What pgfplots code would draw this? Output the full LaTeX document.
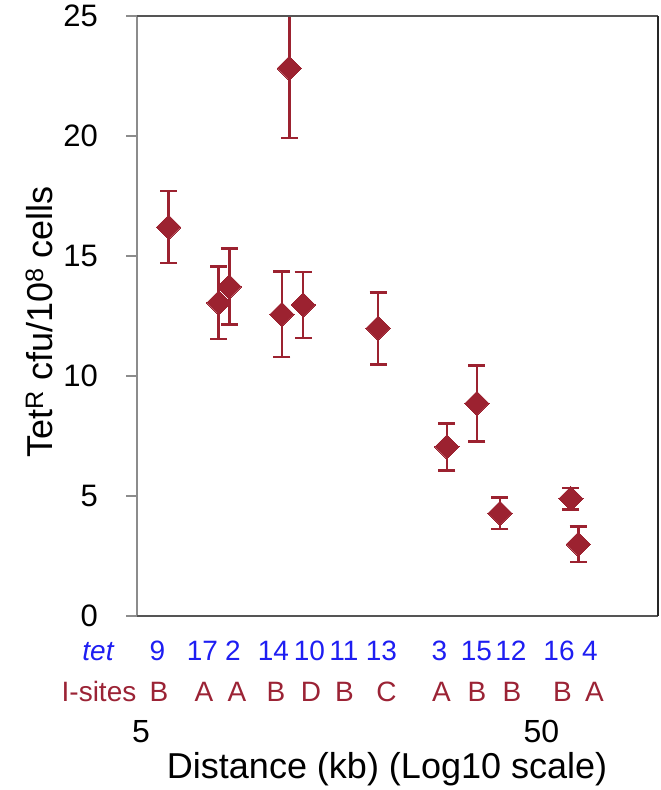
\documentclass[border=0pt]{standalone}
\usepackage{pgfplots}
\pgfplotsset{compat=1.18}
\usepackage{fontspec}
\setmainfont{Liberation Sans}
\definecolor{mred}{HTML}{9C2230}
\definecolor{tblue}{HTML}{1E1EF2}
\definecolor{sred}{HTML}{9B2335}
\definecolor{tgray}{HTML}{8C8C8C}
\definecolor{bgray}{HTML}{555555}
\definecolor{rdark}{HTML}{262626}

\pgfplotstableread{
x     y      err
6.0   16.20  1.50
8.0   13.05  1.50
8.5   13.72  1.58
12.0  22.82  2.90
11.5  12.57  1.78
13.0  12.96  1.38
20.0  11.99  1.50
29.7  7.05   0.98
35.3  8.86   1.58
40.3  4.28   0.66
60.6  4.89   0.44
63.2  2.99   0.74
}\datatable

\begin{document}
\begin{tikzpicture}
\path[use as bounding box] (-137pt,-174pt) rectangle (524pt,616pt);
\begin{axis}[
  scale only axis, width=521pt, height=600pt,
  xmode=log, xmin=5, xmax=100, ymin=0, ymax=25,
  xtick={5,50}, xticklabels={5,50},
  ytick={0,5,10,15,20,25},
  ytick pos=left, tick align=outside, major tick length=11pt,
  x tick style={draw=none},
  y tick style={color=tgray, line width=2.2pt},
  minor tick num=0,
  axis line style={draw=none},
  /pgf/number format/assume math mode=true,
  yticklabel style={anchor=east, inner sep=0pt, xshift=-28pt, font=\fontsize{31}{36}\selectfont},
  xticklabel style={anchor=base, inner sep=0pt, yshift=-115pt, xshift=4pt, font=\fontsize{32}{36}\selectfont},
  xlabel={Distance (kb) (Log10 scale)},
  xlabel style={at={(axis description cs:0.48,0)}, anchor=base, inner sep=0pt, yshift=-162pt, font=\fontsize{36}{40}\selectfont},
  ylabel={Tet\textsuperscript{R} cfu/10\textsuperscript{8} cells},
  ylabel style={at={(axis description cs:-0.163,0.49)}, anchor=base, inner sep=0pt, font=\fontsize{36}{40}\selectfont},
  after end axis/.code={
    \draw[tgray, line width=2.3pt] (rel axis cs:0,0) -- (rel axis cs:0,1);
    \draw[bgray, line width=1.6pt] (rel axis cs:0,0) -- (rel axis cs:1,0);
    \draw[bgray, line width=1.6pt] (rel axis cs:0,1) -- (rel axis cs:1,1);
    \draw[rdark, line width=1.6pt] (rel axis cs:1,0) -- (rel axis cs:1,1);
  },
]
\addplot[only marks, mark=square*, mark size=8.6pt, color=mred,
  mark options={rotate=45, fill=mred, draw=mred, line width=0pt},
  error bars/.cd, y dir=both, y explicit,
  error bar style={color=mred, line width=2.6pt},
  error mark options={rotate=90, mark size=8.5pt, line width=2.6pt, color=mred}]
  table[x=x, y=y, y error=err] {\datatable};
\end{axis}
% row labels
\node[tblue, anchor=base, font=\fontsize{28}{32}\selectfont\itshape] at (-39pt,-44pt) {tet};
\node[sred, anchor=base, font=\fontsize{28}{32}\selectfont] at (-38pt,-85pt) {I-sites};
\foreach \xx/\t in {20.5/9, 65.5/17, 96/2, 136.5/14, 172.5/10, 207/11, 244.5/13, 302.5/3, 339.5/15, 374/12, 422/16, 453/4}
  \node[tblue, anchor=base, inner sep=0pt, font=\fontsize{28}{32}\selectfont] at (\xx pt,-44pt) {\t};
\foreach \xx/\t in {22/B, 67/A, 100/A, 139/B, 174/D, 207.5/B, 249.5/C, 304.5/A, 340/B, 375/B, 425.5/B, 457.5/A}
  \node[sred, anchor=base, inner sep=0pt, font=\fontsize{28}{32}\selectfont] at (\xx pt,-85pt) {\t};
\end{tikzpicture}
\end{document}
